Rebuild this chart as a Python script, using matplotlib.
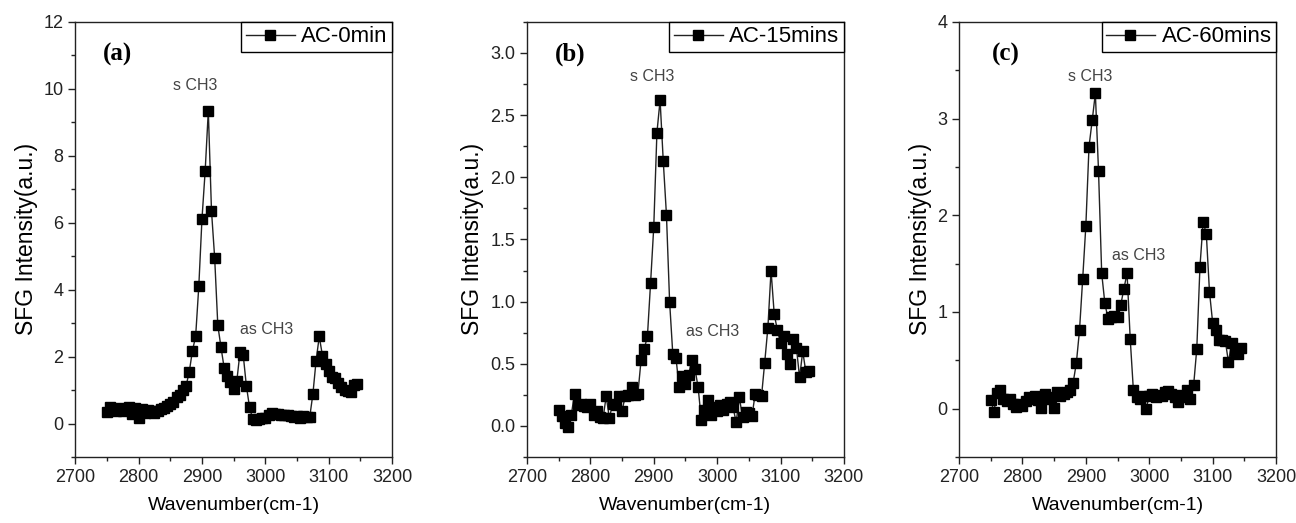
"""
SFG spectra of AC samples at three treatment times, three panels side by side.
"""

import matplotlib
matplotlib.use("Agg")
import matplotlib.pyplot as plt
from matplotlib.ticker import MultipleLocator

plt.rcParams["font.family"] = ["Liberation Sans", "DejaVu Sans"]

# wavenumber grid shared by all panels (cm-1)
WAVENUMBER = [
    2750, 2755, 2760, 2765, 2770, 2775, 2780, 2785, 2790, 2795,
    2800, 2805, 2810, 2815, 2820, 2825, 2830, 2835, 2840, 2845,
    2850, 2855, 2860, 2865, 2870, 2875, 2880, 2885, 2890, 2895,
    2900, 2905, 2910, 2915, 2920, 2925, 2930, 2935, 2940, 2945,
    2950, 2955, 2960, 2965, 2970, 2975, 2980, 2985, 2990, 2995,
    3000, 3005, 3010, 3015, 3020, 3025, 3030, 3035, 3040, 3045,
    3050, 3055, 3060, 3065, 3070, 3075, 3080, 3085, 3090, 3095,
    3100, 3105, 3110, 3115, 3120, 3125, 3130, 3135, 3140, 3145,
]

AC_0MIN = [
    0.33, 0.48, 0.42, 0.38, 0.45, 0.36, 0.42, 0.50, 0.27, 0.45,
    0.18, 0.42, 0.30, 0.40, 0.36, 0.30, 0.38, 0.42, 0.46, 0.52,
    0.59, 0.65, 0.79, 0.85, 0.99, 1.13, 1.55, 2.18, 2.60, 4.10,
    6.11, 7.53, 9.34, 6.36, 4.96, 2.93, 2.28, 1.66, 1.43, 1.23,
    1.04, 1.28, 2.13, 2.06, 1.13, 0.49, 0.14, 0.12, 0.15, 0.18,
    0.16, 0.25, 0.30, 0.28, 0.27, 0.25, 0.26, 0.24, 0.22, 0.20,
    0.21, 0.18, 0.22, 0.19, 0.20, 0.89, 1.88, 2.60, 2.03, 1.78,
    1.58, 1.38, 1.35, 1.22, 1.08, 1.00, 0.98, 0.95, 1.15, 1.18,
]

AC_15MINS = [
    0.13, 0.08, 0.02, -0.01, 0.09, 0.26, 0.17, 0.18, 0.16, 0.15,
    0.18, 0.09, 0.12, 0.07, 0.06, 0.24, 0.06, 0.18, 0.17, 0.24,
    0.12, 0.24, 0.25, 0.31, 0.25, 0.26, 0.53, 0.62, 0.72, 1.15,
    1.60, 2.36, 2.62, 2.13, 1.70, 1.00, 0.58, 0.55, 0.31, 0.40,
    0.34, 0.41, 0.53, 0.46, 0.31, 0.05, 0.13, 0.21, 0.09, 0.15,
    0.12, 0.17, 0.13, 0.18, 0.19, 0.15, 0.03, 0.23, 0.07, 0.11,
    0.10, 0.08, 0.26, 0.25, 0.24, 0.51, 0.79, 1.25, 0.90, 0.77,
    0.67, 0.72, 0.58, 0.50, 0.70, 0.63, 0.39, 0.60, 0.43, 0.44,
]

AC_60MINS = [
    0.09, -0.03, 0.16, 0.19, 0.10, 0.08, 0.10, 0.05, 0.02, 0.05,
    0.03, 0.08, 0.12, 0.10, 0.13, 0.09, 0.01, 0.15, 0.10, 0.12,
    0.01, 0.17, 0.13, 0.15, 0.17, 0.19, 0.27, 0.47, 0.81, 1.34,
    1.89, 2.71, 2.98, 3.26, 2.46, 1.40, 1.09, 0.93, 0.95, 0.96,
    0.95, 1.07, 1.24, 1.40, 0.72, 0.19, 0.12, 0.10, 0.13, 0.00,
    0.13, 0.15, 0.12, 0.14, 0.13, 0.17, 0.18, 0.15, 0.12, 0.07,
    0.14, 0.12, 0.19, 0.10, 0.24, 0.62, 1.47, 1.93, 1.81, 1.21,
    0.89, 0.81, 0.71, 0.71, 0.70, 0.48, 0.68, 0.60, 0.57, 0.63,
]

SERIES = [AC_0MIN, AC_15MINS, AC_60MINS]
LEGEND_LABELS = ["AC-0min", "AC-15mins", "AC-60mins"]
PANEL_TAGS = ["(a)", "(b)", "(c)"]
Y_LIMITS = [(-1, 12), (-0.25, 3.25), (-0.5, 4)]
Y_MAJOR = [2, 0.5, 1]
Y_MINOR = [1, 0.25, 0.5]
# peak annotation anchors (wavenumber, intensity)
S_CH3_POS = [(2889, 10.1), (2897, 2.81), (2907, 3.43)]
AS_CH3_POS = [(3002, 2.8), (2993, 0.76), (2984, 1.58)]
TAG_X = [0.087, 0.088, 0.103]

PANEL_LEFT = [0.058, 0.4066, 0.740]

fig = plt.figure(figsize=(12.96, 5.23), dpi=100)

for i, values in enumerate(SERIES):
    ax = fig.add_axes([PANEL_LEFT[i], 0.1262, 0.2446, 0.832])

    ax.plot(WAVENUMBER, values, color="#222222", linewidth=1.0,
            marker="s", markersize=7.3, markerfacecolor="black",
            markeredgecolor="black", label=LEGEND_LABELS[i])

    ax.set_xlim(2700, 3200)
    ax.set_ylim(*Y_LIMITS[i])
    ax.xaxis.set_major_locator(MultipleLocator(100))
    ax.xaxis.set_minor_locator(MultipleLocator(50))
    ax.yaxis.set_major_locator(MultipleLocator(Y_MAJOR[i]))
    ax.yaxis.set_minor_locator(MultipleLocator(Y_MINOR[i]))

    ax.tick_params(which="both", direction="out", top=False, right=False,
                   width=1.0, labelsize=13, colors="#222222")
    ax.tick_params(which="major", length=5)
    ax.tick_params(which="minor", length=3)
    for spine in ax.spines.values():
        spine.set_linewidth(1.0)
        spine.set_color("#222222")

    ax.set_xlabel("Wavenumber(cm-1)", fontsize=14, labelpad=8)
    ax.set_ylabel("SFG Intensity(a.u.)", fontsize=16.5, labelpad=4)

    ax.text(TAG_X[i], 0.925, PANEL_TAGS[i], transform=ax.transAxes,
            fontsize=18, fontweight="bold", family="Liberation Serif",
            va="center", ha="left")
    ax.text(*S_CH3_POS[i], "s CH3", fontsize=11.5, color="#444444",
            ha="center", va="center")
    ax.text(*AS_CH3_POS[i], "as CH3", fontsize=11.5, color="#444444",
            ha="center", va="center")

    leg = ax.legend(loc="upper right", borderaxespad=0, fontsize=16,
                    fancybox=False, framealpha=1, edgecolor="black",
                    handlelength=2.2, handletextpad=0.3,
                    borderpad=0.2, markerscale=1.0)
    leg.get_frame().set_linewidth(1.0)

fig.savefig("out.png", dpi=100)
plt.close(fig)
